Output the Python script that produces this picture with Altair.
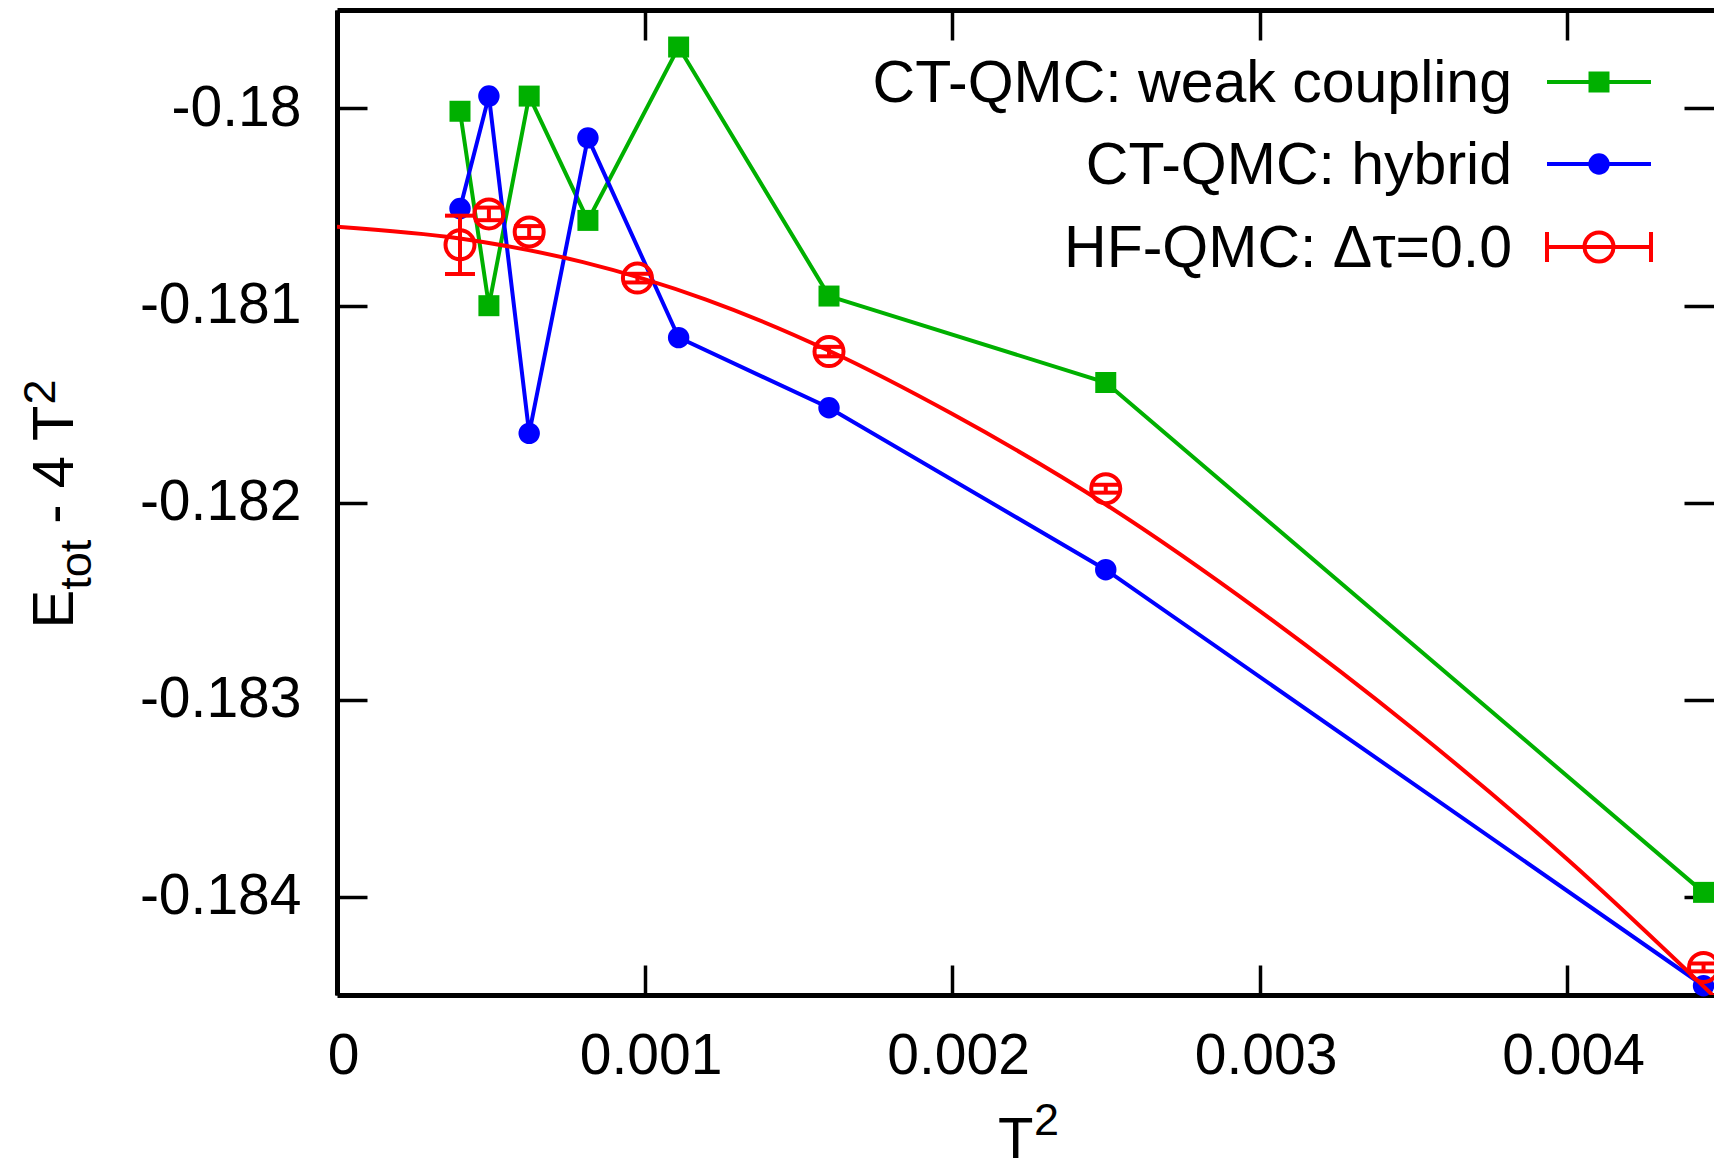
import altair as alt
import pandas as pd

# ---------------- data ----------------
ct_T2 = [0.0004, 0.000494, 0.000625, 0.000816, 0.001111, 0.0016, 0.0025, 0.004444]
weak_E = [-0.180014, -0.181001, -0.179937, -0.180568, -0.179688, -0.180952, -0.181391, -0.183979]
hyb_E = [-0.180508, -0.179937, -0.181649, -0.180149, -0.181163, -0.181519, -0.182341, -0.184453]

hf_T2 = [0.0004, 0.000494, 0.000625, 0.000977, 0.0016, 0.0025, 0.004444]
hf_E = [-0.180692, -0.180535, -0.180627, -0.180861, -0.181234, -0.18193, -0.18436]
hf_err = [0.000148, 0.000032, 0.00003, 0.000022, 0.000024, 0.00002, 0.00002]

fit_T2 = [0, 0.0004, 0.0008, 0.0012, 0.0016, 0.002, 0.0025, 0.003, 0.0035, 0.004, 0.0045]
fit_E = [-0.18060, -0.18066, -0.18078, -0.18097, -0.18123, -0.18155, -0.18201,
         -0.18255, -0.18315, -0.18381, -0.18454]

x_ticks = [0, 0.001, 0.002, 0.003, 0.004]
y_ticks = [-0.18, -0.181, -0.182, -0.183, -0.184]
x_domain = [0, 0.004478]
y_domain = [-0.1845, -0.1795]
series_labels = ["CT-QMC: weak coupling", "CT-QMC: hybrid", "HF-QMC: \u0394\u03c4=0.0"]

# ---------------- styling / layout ----------------
FONT = "Liberation Sans"
GREEN, BLUE, RED = "#00b000", "#0000ff", "#ff0000"
W, H = 1377, 985
PAD_L, PAD_T = 337, 10
LW = 4
AXW = 5
FS = 57
LFS = 59

weak_df = pd.DataFrame({"T2": ct_T2, "E": weak_E})
hyb_df = pd.DataFrame({"T2": ct_T2, "E": hyb_E})
hf_df = pd.DataFrame({"T2": hf_T2, "E": hf_E, "err": hf_err})
hf_df["lo"] = hf_df["E"] - hf_df["err"]
hf_df["hi"] = hf_df["E"] + hf_df["err"]
fit_df = pd.DataFrame({"T2": fit_T2, "E": fit_E})

xs = alt.Scale(domain=x_domain, nice=False, zero=False)
ys = alt.Scale(domain=y_domain, nice=False, zero=False)

label_expr = "'' + datum.value"

ax_bottom = alt.Axis(orient="bottom", values=x_ticks, labelExpr=label_expr, ticks=False, tickSize=0,
                     domain=True, domainColor="black", domainWidth=AXW, grid=False, title=None,
                     labelFont=FONT, labelFontSize=FS, labelColor="black", labelPadding=33,
                     labelOffset=6, labelFlush=False, labelOverlap=False, labelBound=False)
ax_left = alt.Axis(orient="left", values=y_ticks, labelExpr=label_expr, ticks=False, tickSize=0,
                   domain=True, domainColor="black", domainWidth=AXW, grid=False, title=None,
                   labelFont=FONT, labelFontSize=FS, labelColor="black", labelPadding=36,
                   labelFlush=False, labelOverlap=False, labelBound=False)
ax_top = alt.Axis(orient="top", values=x_ticks, ticks=False, tickSize=0, labels=False,
                  domain=True, domainColor="black", domainWidth=AXW, grid=False, title=None)


def tick_axis(orient, vals):
    return alt.Axis(orient=orient, values=vals, offset=-30, ticks=True, tickSize=30,
                    tickWidth=3.5, tickColor="black", domain=False, labels=False,
                    grid=False, title=None)


def X(axis=None, field="T2"):
    return alt.X(f"{field}:Q", scale=xs, axis=axis)


def Y(axis=None, field="E"):
    return alt.Y(f"{field}:Q", scale=ys, axis=axis)


layers = []
# green: weak coupling
layers.append(alt.Chart(weak_df).mark_line(color=GREEN, strokeWidth=LW)
              .encode(x=X(ax_bottom), y=Y(ax_left)))
layers.append(alt.Chart(weak_df).mark_square(color=GREEN, size=441, opacity=1)
              .encode(x=X(tick_axis("top", x_ticks)), y=Y(tick_axis("right", y_ticks))))
# blue: hybrid
layers.append(alt.Chart(hyb_df).mark_line(color=BLUE, strokeWidth=LW)
              .encode(x=X(tick_axis("bottom", x_ticks)), y=Y(tick_axis("left", y_ticks))))
layers.append(alt.Chart(hyb_df).mark_circle(color=BLUE, size=460, opacity=1)
              .encode(x=X(), y=Y()))
# red: fit curve + HF-QMC points with error bars
layers.append(alt.Chart(fit_df).mark_line(color=RED, strokeWidth=LW, clip=True, interpolate="monotone")
              .encode(x=X(ax_top), y=Y()))
layers.append(alt.Chart(hf_df).mark_rule(color=RED, strokeWidth=LW)
              .encode(x=X(), y=Y(field="lo"), y2="hi:Q"))
for f in ["lo", "hi"]:
    layers.append(alt.Chart(hf_df).mark_tick(color=RED, orient="horizontal", size=30,
                                             thickness=LW, opacity=1)
                  .encode(x=X(), y=Y(field=f)))
layers.append(alt.Chart(hf_df).mark_point(shape="circle", color=RED, size=841, filled=False,
                                          strokeWidth=LW, opacity=1)
              .encode(x=X(), y=Y()))

one = alt.Data(values=[{}])


def txt(text, x, y, size=58, angle=0, align="left"):
    m = dict(text=text, font=FONT, fontSize=size, align=align, baseline="alphabetic", color="black")
    if angle:
        m["angle"] = angle
    return alt.Chart(one).mark_text(**m).encode(x=alt.value(x), y=alt.value(y))


# axis titles (with sub/superscripts)
layers.append(txt("T", 661, 1148))
layers.append(txt("2", 697, 1125, size=45))
layers.append(txt("E", -264, 618.5, angle=270))
layers.append(txt("tot", -246, 579.8, size=45, angle=270))
layers.append(txt("- 4 T", -264, 513.7, angle=270))
layers.append(txt("2", -282, 394.4, size=45, angle=270))

# legend (key drawn at the top right, as in the source figure)
colors = [GREEN, BLUE, RED]
row_cy = [72, 154, 237]
LX0, LX1, LXM, LTX = 1210, 1314, 1262, 1175
for i, lab in enumerate(series_labels):
    cy = row_cy[i]
    layers.append(txt(lab, LTX, cy + 20, size=LFS, align="right"))
    layers.append(alt.Chart(one).mark_rule(color=colors[i], strokeWidth=LW)
                  .encode(x=alt.value(LX0), x2=alt.value(LX1), y=alt.value(cy)))
    if i == 0:
        layers.append(alt.Chart(one).mark_point(shape="square", filled=True, color=GREEN, size=441, opacity=1)
                      .encode(x=alt.value(LXM), y=alt.value(cy)))
    elif i == 1:
        layers.append(alt.Chart(one).mark_point(shape="circle", filled=True, color=BLUE, size=460, opacity=1)
                      .encode(x=alt.value(LXM), y=alt.value(cy)))
    else:
        for cx in (LX0, LX1):
            layers.append(alt.Chart(one).mark_rule(color=RED, strokeWidth=LW)
                          .encode(x=alt.value(cx), y=alt.value(cy - 15), y2=alt.value(cy + 15)))
        layers.append(alt.Chart(one).mark_point(shape="circle", filled=False, color=RED, size=841,
                                                strokeWidth=LW, opacity=1)
                      .encode(x=alt.value(LXM), y=alt.value(cy)))

chart = (alt.layer(*layers)
         .resolve_axis(x="independent", y="independent")
         .properties(width=W, height=H,
                     padding={"left": PAD_L, "top": PAD_T, "right": 0, "bottom": 1169 - PAD_T - H},
                     autosize=alt.AutoSizeParams(type="none"),
                     background="white")
         .configure_view(stroke=None))

chart.save("out.html", embed_options={"renderer": "svg", "actions": False})
